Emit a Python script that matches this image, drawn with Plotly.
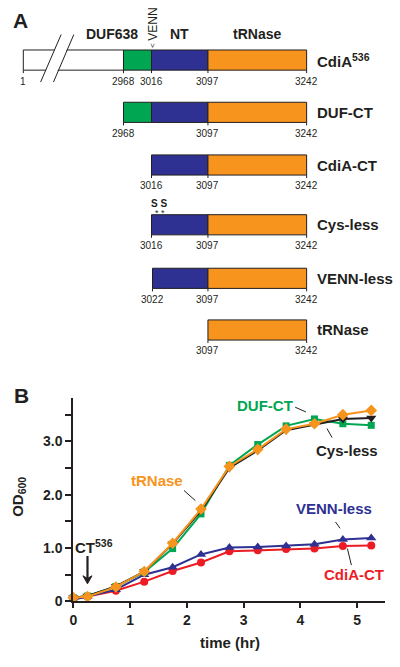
import numpy as np
import plotly.graph_objects as go

# ---------------- Panel A data ----------------
constructs = ["CdiA<sup>536</sup>", "DUF-CT", "CdiA-CT", "Cys-less", "VENN-less", "tRNase"]
construct_start = [1, 2968, 3016, 3016, 3022, 3097]
construct_end = [3242, 3242, 3242, 3242, 3242, 3242]
domain_names = ["", "DUF638", "NT", "tRNase"]
domain_start = [1, 2968, 3016, 3097]
domain_end = [2968, 3016, 3097, 3242]
residue_labels = [
    [1, 2968, 3016, 3097, 3242],
    [2968, 3097, 3242],
    [3016, 3097, 3242],
    [3016, 3097, 3242],
    [3022, 3097, 3242],
    [3097, 3242],
]

# ---------------- Panel B data ----------------
time_hr = [0, 0.25, 0.75, 1.25, 1.75, 2.25, 2.75, 3.25, 3.75, 4.25, 4.75, 5.25]
od_cdia_ct = [0.05, 0.09, 0.20, 0.37, 0.57, 0.73, 0.94, 0.96, 0.98, 0.99, 1.04, 1.05]
od_venn_less = [0.03, 0.09, 0.22, 0.50, 0.64, 0.88, 1.01, 1.02, 1.04, 1.07, 1.16, 1.19]
od_duf_ct = [0.07, 0.10, 0.28, 0.55, 0.99, 1.64, 2.55, 2.94, 3.29, 3.42, 3.33, 3.30]
od_cys_less = [0.07, 0.10, 0.28, 0.56, 1.08, 1.70, 2.50, 2.83, 3.21, 3.32, 3.42, 3.44]
od_trnase = [0.07, 0.09, 0.27, 0.56, 1.09, 1.73, 2.53, 2.85, 3.23, 3.33, 3.50, 3.58]
x_ticks = [0, 1, 2, 3, 4, 5]
y_ticks = [0, 1, 2, 3]
y_tick_labels = ["0", "1.0", "2.0", "3.0"]

# ---------------- styles ----------------
FONT = "Liberation Sans, Arial, Helvetica, sans-serif"
INK = "#231f20"
domain_colors = ["#ffffff", "#00a651", "#2e3192", "#f7941d"]
C_RED, C_BLUE, C_GREEN, C_BLACK, C_ORANGE = "#ed1c24", "#2e3192", "#00a651", "#231f20", "#f7941d"

# schematic (non-linear) residue scale for panel A, in overlay-axis units
scale_res = [1, 2968, 3016, 3022, 3097, 3242]
scale_pos = [19.5, 120.7, 149.0, 150.0, 206.0, 305.7]


def pos(r):
    return float(np.interp(r, scale_res, scale_pos))


row_center = [60.8, 113.7, 167.0, 227.5, 281.7, 334.0]
half_h = 10.2


def ann(**kw):
    kw.setdefault("showarrow", False)
    kw.setdefault("xanchor", "center")
    kw.setdefault("yanchor", "middle")
    return kw


fig = go.Figure()

# invisible trace to establish overlay axes for panel A
fig.add_trace(go.Scatter(x=[0], y=[0], xaxis="x2", yaxis="y2", mode="markers",
                         marker=dict(opacity=0), hoverinfo="skip", showlegend=False))

shapes = []
annotations = []

for i, name in enumerate(constructs):
    yc = row_center[i]
    y0, y1 = yc - half_h, yc + half_h
    for d in range(len(domain_names)):
        a = max(construct_start[i], domain_start[d])
        b = domain_end[d]
        if b > a:
            shapes.append(dict(type="rect", xref="x2", yref="y2", x0=pos(a), x1=pos(b),
                               y0=y0, y1=y1, fillcolor=domain_colors[d],
                               line=dict(color=INK, width=1), layer="above"))
    for r in residue_labels[i]:
        shapes.append(dict(type="line", xref="x2", yref="y2", x0=pos(r), x1=pos(r),
                           y0=y1, y1=y1 + 3, line=dict(color=INK, width=1)))
        annotations.append(ann(xref="x2", yref="y2", x=pos(r), y=y1 + 11, text=str(r),
                               font=dict(family=FONT, size=10, color=INK)))
    annotations.append(ann(xref="x2", yref="y2", x=314, y=yc, xanchor="left", text="<b>%s</b>" % name,
                           font=dict(family=FONT, size=15, color=INK)))

# break marks on the full-length bar
shapes.append(dict(type="path", xref="x2", yref="y2",
                   path="M 37.5 82 L 57.5 36 L 69.5 36 L 49.5 82 Z",
                   fillcolor="white", line=dict(width=0), layer="above"))
shapes.append(dict(type="line", xref="x2", yref="y2", x0=37, y0=83, x1=57.7, y1=35,
                   line=dict(color=INK, width=1)))
shapes.append(dict(type="line", xref="x2", yref="y2", x0=50, y0=83, x1=70.5, y1=35,
                   line=dict(color=INK, width=1)))

# domain headers
annotations += [
    ann(xref="x2", yref="y2", x=137, y=34, xanchor="right", text="<b>DUF638</b>",
        font=dict(family=FONT, size=14, color=INK)),
    ann(xref="x2", yref="y2", x=(pos(3016) + pos(3097)) / 2, y=34, text="<b>NT</b>",
        font=dict(family=FONT, size=14, color=INK)),
    ann(xref="x2", yref="y2", x=(pos(3097) + pos(3242)) / 2, y=34, text="<b>tRNase</b>",
        font=dict(family=FONT, size=14, color=INK)),
    ann(xref="x2", yref="y2", x=pos(3016) + 1.5, y=25, text="VENN", textangle=-90,
        font=dict(family=FONT, size=12, color=INK)),
    ann(xref="x2", yref="y2", x=pos(3016) + 1.5, y=46.5, text="&lt;", textangle=-90,
        font=dict(family=FONT, size=8, color=INK)),
    ann(xref="x2", yref="y2", x=157, y=206, text="<b>S S</b>",
        font=dict(family=FONT, size=10, color=INK)),
    ann(xref="x2", yref="y2", x=158, y=216, text="* *",
        font=dict(family=FONT, size=9, color=INK)),
    ann(xref="x2", yref="y2", x=17, y=20.5, text="<b>A</b>",
        font=dict(family=FONT, size=21, color=INK)),
    ann(xref="x2", yref="y2", x=17.5, y=400, text="<b>B</b>",
        font=dict(family=FONT, size=21, color=INK)),
]

# ---------------- Panel B traces ----------------
series = [
    (od_cdia_ct, C_RED, "circle", 8),
    (od_venn_less, C_BLUE, "triangle-up", 9),
    (od_duf_ct, C_GREEN, "square", 7),
    (od_cys_less, C_BLACK, "triangle-down", 9),
    (od_trnase, C_ORANGE, "diamond", 9),
]
for vals, col, sym, sz in series:
    fig.add_trace(go.Scatter(x=time_hr, y=vals, mode="lines+markers", cliponaxis=False,
                             line=dict(color=col, width=2),
                             marker=dict(color=col, symbol=sym, size=sz, line=dict(width=0)),
                             showlegend=False, xaxis="x", yaxis="y"))

# series labels with leader lines (data coords)
labels_b = [
    ("DUF-CT", C_GREEN, 3.37, 3.68, (3.91, 3.64, 4.10, 3.55)),
    ("Cys-less", C_BLACK, 4.83, 2.82, (4.47, 3.24, 4.56, 3.07)),
    ("tRNase", C_ORANGE, 1.48, 2.27, (1.95, 2.08, 2.15, 1.89)),
    ("VENN-less", C_BLUE, 4.59, 1.75, (4.62, 1.49, 4.70, 1.37)),
    ("CdiA-CT", C_RED, 4.94, 0.50, (4.83, 0.99, 4.90, 0.68)),
]
for txt, col, lx, ly, (ax0, ay0, ax1, ay1) in labels_b:
    annotations.append(ann(xref="x", yref="y", x=lx, y=ly, text="<b>%s</b>" % txt,
                           font=dict(family=FONT, size=15, color=col)))
    shapes.append(dict(type="line", xref="x", yref="y", x0=ax0, y0=ay0, x1=ax1, y1=ay1,
                       line=dict(color=INK, width=1)))

annotations.append(ann(xref="x", yref="y", x=0.36, y=1.03, text="<b>CT<sup>536</sup></b>",
                       font=dict(family=FONT, size=15, color=INK)))
# arrow drawn as a shaft line plus a filled arrow head (data coordinates)
shapes.append(dict(type="line", xref="x", yref="y", x0=0.25, x1=0.25, y0=0.85, y1=0.40,
                   line=dict(color=INK, width=2.2)))
shapes.append(dict(type="path", xref="x", yref="y",
                   path="M 0.17 0.48 L 0.25 0.33 L 0.33 0.48 L 0.25 0.43 Z",
                   fillcolor=INK, line=dict(color=INK, width=1)))

# axis titles
annotations.append(ann(xref="paper", yref="paper", x=228 / 400, y=1 - 650 / 667, text="<b>time (hr)</b>",
                       font=dict(family=FONT, size=15, color=INK)))
annotations.append(ann(xref="paper", yref="paper", x=15 / 400, y=1 - 503 / 667, text="<b>OD<sub>600</sub></b>",
                       textangle=-90, font=dict(family=FONT, size=15, color=INK)))

fig.update_layout(
    width=400, height=667, margin=dict(l=0, r=0, t=0, b=0),
    paper_bgcolor="white", plot_bgcolor="rgba(0,0,0,0)",
    showlegend=False,
    xaxis=dict(domain=[70 / 400, 385 / 400], range=[0, 5.495], showgrid=False, zeroline=False,
               showline=True, linecolor=INK, linewidth=2, ticks="outside", ticklen=5, tickwidth=2,
               tickcolor=INK, tickvals=x_ticks, ticktext=[str(v) for v in x_ticks],
               tickfont=dict(family=FONT, size=14, color=INK, weight="bold"), anchor="y"),
    yaxis=dict(domain=[1 - 608.7 / 667, 1 - 402.7 / 667], range=[0, 3.815], showgrid=False, zeroline=False,
               showline=True, linecolor=INK, linewidth=2, ticks="outside", ticklen=6, tickwidth=2,
               tickcolor=INK, tickvals=y_ticks, ticktext=y_tick_labels,
               minor=dict(ticks="outside", tick0=0.5, dtick=1, ticklen=6, tickwidth=2, tickcolor=INK,
                          showgrid=False),
               tickfont=dict(family=FONT, size=14, color=INK, weight="bold"), anchor="x"),
    xaxis2=dict(domain=[0, 1], range=[0, 400], visible=False, anchor="y2", fixedrange=True),
    yaxis2=dict(domain=[0, 1], range=[667, 0], visible=False, anchor="x2", fixedrange=True),
    shapes=shapes,
    annotations=annotations,
)

fig.write_html(
    "out.html",
    config={"displayModeBar": False, "staticPlot": True},
    post_script=(
        "var h=document.documentElement,b=document.body;"
        "h.style.margin='0';h.style.padding='0';h.style.overflow='hidden';h.style.height='667px';"
        "b.style.margin='0';b.style.padding='0';b.style.overflow='hidden';b.style.height='667px';"
    ),
)
